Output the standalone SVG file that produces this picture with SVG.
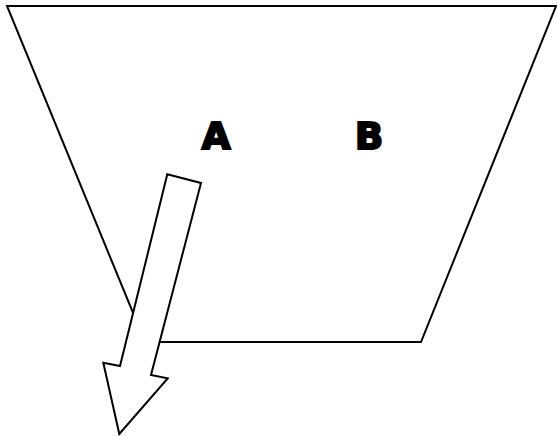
<svg xmlns="http://www.w3.org/2000/svg" width="557" height="436" viewBox="0 0 557 436">
<style>
.shape{fill:#fff;stroke:#000;stroke-width:2;stroke-linejoin:miter}
.lbl{font-family:"DejaVu Sans","Liberation Sans",Arial,sans-serif;font-weight:bold;font-size:37px;fill:#000;stroke:#000;stroke-width:2.2;text-anchor:middle}
</style>
<rect width="557" height="436" fill="#fff"/>
<g id="trapezoid">
<polygon class="shape" points="7,6 556,6 421,342 145,342"/>
</g>
<g id="labelA"><text class="lbl" x="216" y="149">A</text></g>
<g id="labelB"><text class="lbl" x="369" y="149">B</text></g>
<g id="connectors">
<polygon class="shape" points="167.3,174.3 201,183 151,375 167.7,378.3 119.3,434 103.3,362.7 120,366"/>
</g>
</svg>
